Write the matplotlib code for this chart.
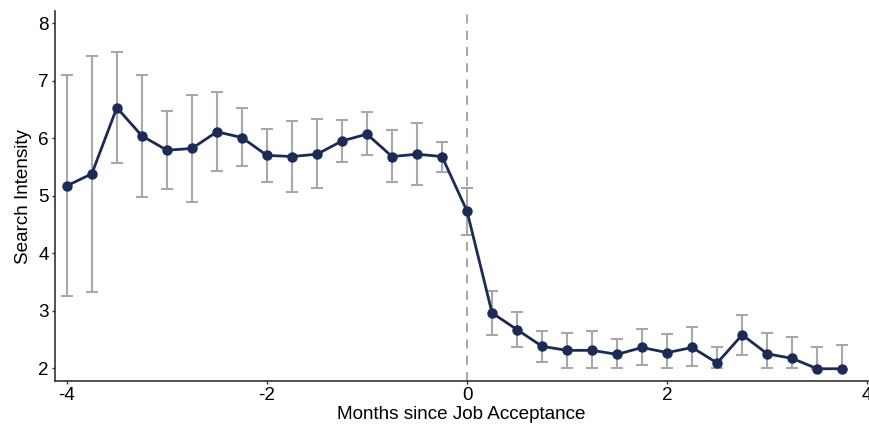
import matplotlib
matplotlib.use("Agg")
import matplotlib.pyplot as plt

plt.rcParams['font.family'] = ['Liberation Sans', 'DejaVu Sans']
plt.rcParams['axes.unicode_minus'] = False

# Months relative to job acceptance
months = [-4.0, -3.75, -3.5, -3.25, -3.0, -2.75, -2.5, -2.25,
          -2.0, -1.75, -1.5, -1.25, -1.0, -0.75, -0.5, -0.25,
          0.0, 0.25, 0.5, 0.75, 1.0, 1.25, 1.5, 1.75,
          2.0, 2.25, 2.5, 2.75, 3.0, 3.25, 3.5, 3.75]

intensity = [5.17, 5.38, 6.53, 6.04, 5.79, 5.82, 6.11, 6.01,
             5.70, 5.68, 5.72, 5.95, 6.07, 5.68, 5.72, 5.68,
             4.73, 2.96, 2.67, 2.38, 2.31, 2.31, 2.24, 2.36,
             2.27, 2.36, 2.09, 2.58, 2.25, 2.17, 1.99, 1.99]

ci_upper = [7.10, 7.43, 7.50, 7.10, 6.47, 6.75, 6.81, 6.52,
            6.16, 6.29, 6.34, 6.32, 6.45, 6.14, 6.27, 5.94,
            5.14, 3.35, 2.97, 2.65, 2.62, 2.65, 2.50, 2.68,
            2.59, 2.71, 2.36, 2.93, 2.61, 2.54, 2.36, 2.41]

ci_lower = [3.25, 3.33, 5.57, 4.98, 5.12, 4.89, 5.42, 5.51,
            5.24, 5.07, 5.13, 5.59, 5.70, 5.23, 5.18, 5.41,
            4.31, 2.57, 2.37, 2.10, 2.01, 2.01, 2.01, 2.05,
            2.01, 2.03, 2.01, 2.23, 2.01, 2.01, 1.99, 1.99]

line_color = '#1c2b55'
err_color = '#a8a8a8'

fig = plt.figure(figsize=(8.7, 4.24), dpi=100)
ax = fig.add_axes([0.063, 0.101, 0.935, 0.873])

yerr = [[m - lo for m, lo in zip(intensity, ci_lower)],
        [hi - m for m, hi in zip(intensity, ci_upper)]]
ax.errorbar(months, intensity, yerr=yerr, fmt='none', ecolor=err_color,
            elinewidth=1.5, capsize=4.5, capthick=1.5, zorder=2)
ax.plot(months, intensity, color=line_color, lw=2, marker='o',
        markersize=6.5, zorder=3)

ax.axvline(0, color='#a0a0a0', lw=1.3, ls=(0, (5, 4)), zorder=1)

ax.set_xlim(-4.12, 4.01)
ax.set_ylim(1.774, 8.21)
ax.set_xticks([-4, -2, 0, 2, 4])
ax.set_yticks([2, 3, 4, 5, 6, 7, 8])

for side in ['top', 'right']:
    ax.spines[side].set_visible(False)
for side in ['left', 'bottom']:
    ax.spines[side].set_color('#333333')
    ax.spines[side].set_linewidth(1.2)

ax.tick_params(axis='both', direction='out', length=2.5, width=1,
               color='#333333', labelsize=13.6, pad=2)

ax.set_xlabel('Months since Job Acceptance', fontsize=13.6, labelpad=1)
ax.set_ylabel('Search Intensity', fontsize=13.6, labelpad=4)

fig.savefig('out.png', dpi=100)
plt.close(fig)
